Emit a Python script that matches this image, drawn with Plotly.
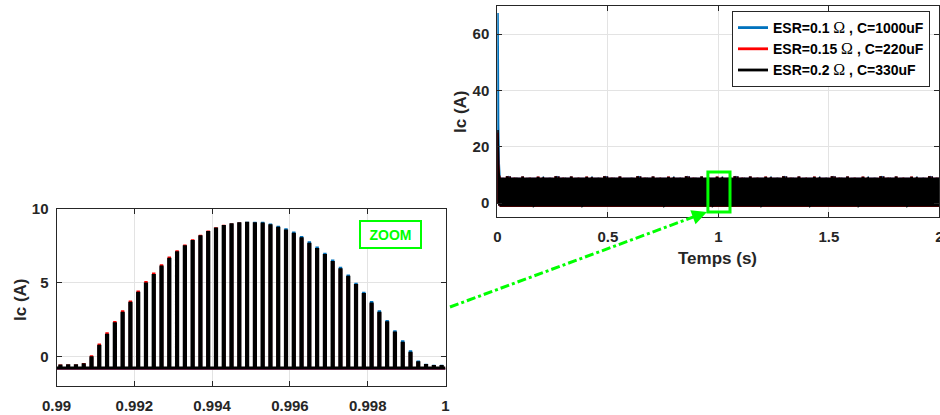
import numpy as np
import plotly.graph_objects as go

W, H = 940, 415

# ---------------- data ----------------
OMEGA = "<span style='font-family:Liberation Serif, serif;font-weight:normal;font-size:16px'>Ω</span>"
series_names = [f"ESR=0.1 {OMEGA} , C=1000uF",
                f"ESR=0.15 {OMEGA} , C=220uF",
                f"ESR=0.2 {OMEGA} , C=330uF"]

# peak value of each switching pulse inside one 10 ms half-cycle (50 pulses)
blue_peaks = [-0.68, -0.68, -0.68, -0.62, -0.15, 0.62, 1.38, 2.15, 2.87, 3.54,
              4.22, 4.85, 5.43, 6.00, 6.52, 6.98, 7.39, 7.76, 8.09, 8.39,
              8.63, 8.82, 8.94, 9.02, 9.08, 9.08, 9.07, 8.96, 8.81, 8.63,
              8.42, 8.10, 7.75, 7.39, 6.98, 6.51, 6.02, 5.50, 4.94, 4.33,
              3.70, 3.07, 2.42, 1.72, 1.04, 0.36, -0.33, -0.55, -0.62, -0.62]
red_peaks = [-0.60, -0.60, -0.60, -0.50, 0.03, 0.82, 1.58, 2.35, 3.07, 3.74,
             4.42, 5.05, 5.63, 6.20, 6.72, 7.15, 7.54, 7.89, 8.20, 8.48,
             8.70, 8.87, 8.96, 9.02, 9.04, 8.98, 8.95, 8.82, 8.66, 8.47,
             8.25, 7.93, 7.57, 7.21, 6.80, 6.33, 5.84, 5.32, 4.76, 4.15,
             3.52, 2.89, 2.24, 1.54, 0.86, 0.18, -0.45, -0.62, -0.68, -0.68]
black_peaks = [-0.63, -0.62, -0.62, -0.55, -0.07, 0.70, 1.46, 2.23, 2.95, 3.62,
               4.30, 4.93, 5.51, 6.08, 6.60, 7.05, 7.45, 7.81, 8.13, 8.42,
               8.65, 8.83, 8.94, 9.01, 9.05, 9.01, 8.99, 8.87, 8.71, 8.53,
               8.31, 7.99, 7.63, 7.27, 6.86, 6.39, 5.90, 5.38, 4.82, 4.21,
               3.58, 2.95, 2.30, 1.60, 0.92, 0.24, -0.41, -0.59, -0.66, -0.66]
# current level between pulses
blue_base, red_base, black_base = -0.86, -0.82, -0.77

# start-up transient (first 10 ms)
transient_t = [0.0, 0.0005, 0.0015, 0.003, 0.006, 0.0095]
blue_transient = [0.0, 67.5, 48.0, 28.0, 14.0, 9.0]
red_transient = [0.0, 25.0, 20.0, 14.0, 10.0, 9.0]
black_transient = [0.0, 26.0, 20.0, 14.0, 10.0, 9.0]

half_cycle = 0.01        # s
pulse_period = 0.0002    # s
pulse_offset = 0.0001    # s
pulse_half_width = 0.000021

zoom_t = [0.99, 1.0]
sim_t_end = 2.0

main_xticks = [0, 0.5, 1, 1.5, 2]
main_xlabels = ["0", "0.5", "1", "1.5", "2"]
main_yticks = [0, 20, 40, 60]
zoom_xticks = [0.99, 0.992, 0.994, 0.996, 0.998, 1.0]
zoom_xlabels = ["0.99", "0.992", "0.994", "0.996", "0.998", "1"]
zoom_yticks = [0, 5, 10]

colors = ["#0072BD", "#FF0000", "#000000"]
zoom_widths = [1.8, 1.8, 2.6]
GREEN = "#00FF00"
AX = "#262626"
FONT = "Liberation Sans, Arial, sans-serif"


def pulse_train(peaks, base, t_start_list):
    peaks = np.asarray(peaks)
    k = np.arange(len(peaks))
    xs, ys = [], []
    for t0 in t_start_list:
        tc = t0 + pulse_offset + k * pulse_period
        x = np.stack([tc - pulse_half_width, tc - pulse_half_width,
                      tc + pulse_half_width, tc + pulse_half_width], axis=1).ravel()
        y = np.stack([np.full_like(peaks, base), peaks, peaks,
                      np.full_like(peaks, base)], axis=1).ravel()
        xs.append(x)
        ys.append(y)
    return np.concatenate(xs), np.concatenate(ys)


peaks_all = [blue_peaks, red_peaks, black_peaks]
bases = [blue_base, red_base, black_base]
transients = [blue_transient, red_transient, black_transient]

fig = go.Figure()

# ---- zoom (left) subplot ----
for name, pk, b, c, lw in zip(series_names, peaks_all, bases, colors, zoom_widths):
    x, y = pulse_train(pk, b, [zoom_t[0]])
    x = np.concatenate([[zoom_t[0]], x, [zoom_t[1]]])
    y = np.concatenate([[b], y, [b]])
    fig.add_trace(go.Scatter(x=x, y=y, mode="lines", name=name, showlegend=False,
                             line=dict(color=c, width=lw, simplify=False),
                             xaxis="x", yaxis="y", hoverinfo="skip"))

# ---- main (right) subplot ----
n_half = int(round(sim_t_end / half_cycle))
starts = [i * half_cycle for i in range(1, n_half)]
for name, pk, b, c, tr in zip(series_names, peaks_all, bases, colors, transients):
    x, y = pulse_train(pk, b, starts)
    x = np.concatenate([transient_t, x])
    y = np.concatenate([tr, y])
    fig.add_trace(go.Scatter(x=x, y=y, mode="lines", name=name, showlegend=True,
                             line=dict(color=c, width=2.8), xaxis="x2", yaxis="y2",
                             hoverinfo="skip"))

tickfont = dict(family=FONT, size=15, color=AX, weight="bold")
axis_common = dict(showline=True, linecolor=AX, linewidth=1, mirror="ticks",
                   ticks="inside", ticklen=5, tickcolor=AX, showgrid=True,
                   gridcolor="#E3E3E3", gridwidth=1, zeroline=False,
                   tickfont=tickfont, automargin=False, ticklabeloverflow="allow")

fig.update_layout(
    template="none",
    width=W, height=H,
    margin=dict(l=0, r=0, t=0, b=0, pad=0),
    paper_bgcolor="white", plot_bgcolor="white",
    showlegend=True,
    xaxis=dict(domain=[56.5 / W, 445.5 / W], range=zoom_t, tickvals=zoom_xticks,
               ticktext=zoom_xlabels, anchor="y", ticklabelstandoff=6, **axis_common),
    yaxis=dict(domain=[1 - 386 / H, 1 - 209 / H], range=[-2, 10], tickvals=zoom_yticks,
               anchor="x", ticklabelstandoff=4, **axis_common),
    xaxis2=dict(domain=[497.3 / W, 939.3 / W], range=[0, sim_t_end], tickvals=main_xticks,
                ticktext=main_xlabels, anchor="y2", ticklabelstandoff=6, **axis_common),
    yaxis2=dict(domain=[1 - 217.3 / H, 1 - 6 / H], range=[-5, 70], tickvals=main_yticks,
                anchor="x2", ticklabelstandoff=4, **axis_common),
    legend=dict(x=930 / W, xanchor="right", y=1 - 11 / H, yanchor="top",
                bgcolor="white", bordercolor=AX, borderwidth=1,
                font=dict(family=FONT, size=14, color="black", weight="bold"),
                itemwidth=30, tracegroupgap=0),
)

title_font = dict(family=FONT, size=17, color=AX, weight="bold")
fig.add_annotation(text="Ic (A)", x=460 / W, y=1 - 112 / H, xref="paper", yref="paper",
                   textangle=-90, showarrow=False, font=title_font,
                   xanchor="center", yanchor="middle")
fig.add_annotation(text="Temps (s)", x=717 / W, y=1 - 258 / H, xref="paper", yref="paper",
                   showarrow=False, font=title_font, xanchor="center", yanchor="middle")
fig.add_annotation(text="Ic (A)", x=20 / W, y=1 - 300 / H, xref="paper", yref="paper",
                   textangle=-90, showarrow=False, font=title_font,
                   xanchor="center", yanchor="middle")

# ZOOM label
fig.add_annotation(text="ZOOM", x=390.5 / W, y=1 - 234.5 / H, xref="paper", yref="paper",
                   showarrow=False, xanchor="center", yanchor="middle",
                   font=dict(family=FONT, size=14, color=GREEN, weight="bold"),
                   bordercolor=GREEN, borderwidth=2, borderpad=2, width=55, height=21,
                   bgcolor="white")

# highlighted zoom window in the main plot
fig.add_shape(type="rect", xref="x2", yref="y2", x0=0.953, x1=1.053, y0=-3.1, y1=11.1,
              line=dict(color=GREEN, width=3))

# dash-dot connector arrow
fig.add_shape(type="line", xref="paper", yref="paper",
              x0=450 / W, y0=1 - 307 / H, x1=700 / W, y1=1 - 214.5 / H,
              line=dict(color=GREEN, width=3, dash="dashdot"))
fig.add_annotation(text="", x=707 / W, y=1 - 212 / H, xref="paper", yref="paper",
                   showarrow=True, ax=-14, ay=5.2, arrowhead=2, arrowsize=1,
                   arrowwidth=3, arrowcolor=GREEN, standoff=0)

fig.write_html("out.html", config={"responsive": False, "displayModeBar": False},
               post_script="document.body.style.margin='0';document.body.style.padding='0';"
                           "document.documentElement.style.overflow='hidden';")
